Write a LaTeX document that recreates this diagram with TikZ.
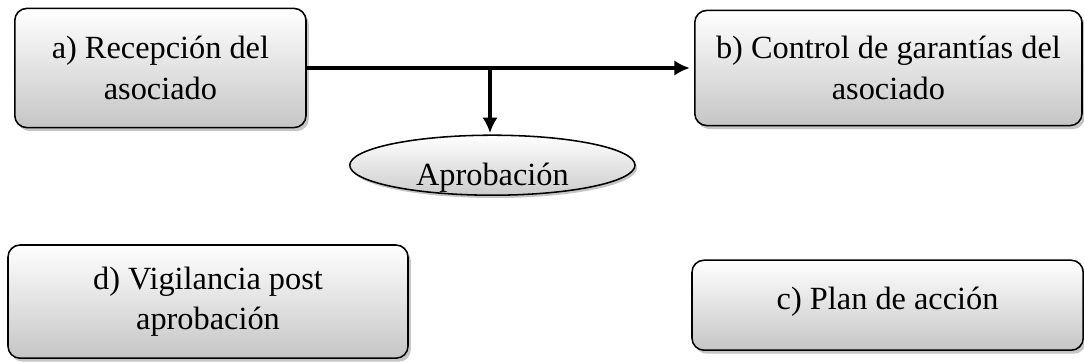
\documentclass[tikz,border=0pt]{standalone}
\usepackage{fontspec}
\setmainfont{Liberation Serif}
\usetikzlibrary{positioning}
\usetikzlibrary{shapes.geometric,shadows,arrows.meta}

\begin{document}
\begin{tikzpicture}[
 caja/.style={draw=black,line width=1.1pt,rounded corners=0.3cm,top color=white,bottom color=gray!45,
  drop shadow={shadow xshift=2pt,shadow yshift=-2.5pt,opacity=0.45},align=center,
  font=\fontsize{23}{29}\selectfont,inner sep=0pt},
 elipse/.style={ellipse,draw=black,line width=1.1pt,top color=white,bottom color=gray!40,
  drop shadow={shadow xshift=1.5pt,shadow yshift=-2pt,opacity=0.45},
  font=\fontsize{23}{29}\selectfont,inner sep=0pt},
 flecha/.style={line width=2.6pt,-{Latex[length=11pt,width=11pt]},shorten >=3pt}]
 \useasboundingbox (0,0) rectangle (27.1,-9.05);
 \node[caja,minimum width=7.28cm,minimum height=2.98cm](rec) at (4.01,-1.70) {a) Recepción del\\asociado};
 \node[caja,minimum width=9.68cm,minimum height=2.88cm](ctl) at (22.21,-1.70) {b) Control de garantías del\\asociado};
 \node[caja,minimum width=9.78cm,minimum height=2.25cm](pln) at (22.19,-7.63) {\raisebox{0.35cm}{c) Plan de acción}};
 \node[caja,minimum width=10.0cm,minimum height=2.83cm](vig) at (5.2,-7.54) {d) Vigilancia post\\aprobación};
 \node[elipse,minimum width=7.13cm,minimum height=1.5cm](apr) at (12.31,-4.13) {\raisebox{-0.22cm}[\height][0pt]{Aprobación}};
 \coordinate (cruce) at (12.25,-1.70);
 \draw[flecha] (rec.east) -- (ctl.west);
 \draw[flecha,shorten >=1pt] (cruce) -- (apr.north -| cruce);
\end{tikzpicture}
\end{document}
